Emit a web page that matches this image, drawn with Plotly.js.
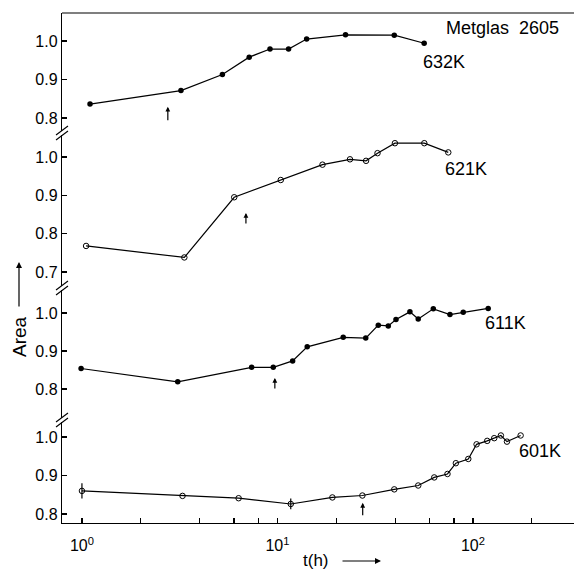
<!DOCTYPE html>
<html>
<head>
<meta charset="utf-8">
<script src="https://cdn.plot.ly/plotly-3.0.1.min.js"></script>
<style>html,body{margin:0;padding:0;background:#fff;}#chart{width:574px;height:573px;}</style>
</head>
<body>
<div id="chart"></div>
<script>
// ---- data ----
var t632 = [1.10, 3.21, 5.23, 7.17, 9.16, 11.4, 14.1, 22.3, 39.6, 56.3];
var a632 = [0.836, 0.871, 0.913, 0.958, 0.979, 0.979, 1.005, 1.016, 1.015, 0.994];

var t621 = [1.05, 3.34, 6.01, 10.4, 17.0, 23.5, 28.4, 32.5, 39.9, 56.4, 74.8];
var a621 = [0.768, 0.738, 0.895, 0.940, 0.980, 0.994, 0.990, 1.010, 1.036, 1.036, 1.012];

var t611 = [0.99, 3.09, 7.38, 9.52, 11.96, 14.2, 21.7, 28.3, 32.8, 36.9, 40.4, 47.6, 52.5, 62.7, 76.3, 89.2, 119.7];
var a611 = [0.854, 0.819, 0.857, 0.857, 0.874, 0.911, 0.936, 0.934, 0.968, 0.966, 0.983, 1.003, 0.984, 1.011, 0.996, 1.002, 1.012];

var t601 = [1.0, 3.27, 6.33, 11.7, 19.1, 27.2, 39.6, 52.5, 63.4, 74.1, 81.8, 94.7, 104.4, 118.3, 128.5, 139, 149.3, 175.4];
var a601 = [0.860, 0.847, 0.841, 0.826, 0.843, 0.848, 0.864, 0.874, 0.895, 0.904, 0.932, 0.943, 0.981, 0.990, 0.997, 1.004, 0.988, 1.004];
var e601 = [0.020, 0, 0, 0.014, 0, 0, 0, 0, 0, 0, 0, 0, 0, 0, 0, 0, 0, 0];

var seriesLabels = ["632K", "621K", "611K", "601K"];
var figLabel = "Metglas  2605";

// marker arrows (time, area at arrow head) per panel
var arrowT = [2.75, 6.9, 9.7, 27.3];
var arrowA = [0.829, 0.854, 0.829, 0.829];

var xTickVals = [1, 2, 4, 6, 8, 10, 20, 40, 60, 80, 100, 200];
var xTickText = ["10<sup>0</sup>", "", "", "", "", "10<sup>1</sup>", "", "", "", "", "10<sup>2</sup>", ""];
var yTicks1 = [0.8, 0.9, 1.0];
var yTicks2 = [0.7, 0.8, 0.9, 1.0];
var yTicks3 = [0.8, 0.9, 1.0];
var yTicks4 = [0.8, 0.9, 1.0];

// ---- layout helpers ----
var W = 574, H = 573, L = 62, R = 0, T = 13, B = 50;
var PW = W - L - R, PH = H - T - B;
function px(x) { return (x - L) / PW; }
function py(y) { return (H - B - y) / PH; }

var FONT = "Liberation Sans, Arial, sans-serif";
var lineStyle = {color: "#000", width: 1.2};

function trace(t, a, yax, open, err) {
  var tr = {
    x: t, y: a, yaxis: yax, type: "scatter", mode: "lines+markers",
    line: lineStyle,
    marker: open ? {symbol: "circle-open", size: 5.5, color: "#000", line: {width: 1, color: "#000"}}
                 : {symbol: "circle", size: 5.5, color: "#000"},
    hoverinfo: "x+y", showlegend: false
  };
  if (err) tr.error_y = {type: "data", array: err, visible: true, color: "#000", thickness: 1.2, width: 0};
  return tr;
}

var data = [
  trace(t632, a632, "y", false),
  trace(t621, a621, "y2", true),
  trace(t611, a611, "y3", false),
  trace(t601, a601, "y4", true, e601)
];

function yax(domain, range, ticks) {
  return {
    domain: domain, range: range, anchor: "x",
    tickvals: ticks, tickformat: ".1f",
    ticks: "inside", ticklen: 5, tickwidth: 1.2, tickcolor: "#000",
    showline: true, linecolor: "#000", linewidth: 1.2,
    showgrid: false, zeroline: false,
    tickfont: {family: FONT, size: 16, color: "#000"}
  };
}

var annotations = [];
function textAnn(txt, x, y, size, angle) {
  annotations.push({text: txt, xref: "paper", yref: "paper", x: x, y: y, showarrow: false,
    xanchor: "center", yanchor: "middle", textangle: angle || 0,
    font: {family: FONT, size: size, color: "#000"}});
}
textAnn(figLabel, px(502), py(28), 18);
textAnn(seriesLabels[0], px(443.5), py(62), 18);
textAnn(seriesLabels[1], px(466), py(169), 18);
textAnn(seriesLabels[2], px(505), py(323), 18);
textAnn(seriesLabels[3], px(540), py(451), 18);
textAnn("Area", px(19), py(337), 19, -90);
textAnn("t(h)", px(316), py(560), 17);

// axis-title arrows
annotations.push({text: "", xref: "paper", yref: "paper", x: px(19), y: py(262), ax: 0, ay: 46,
  showarrow: true, arrowhead: 2, arrowsize: 1, arrowwidth: 1.2, arrowcolor: "#000"});
annotations.push({text: "", xref: "paper", yref: "paper", x: px(381), y: py(561), ax: -40, ay: 0,
  showarrow: true, arrowhead: 2, arrowsize: 1, arrowwidth: 1.2, arrowcolor: "#000"});

// small marker arrows in each panel
var yrefs = ["y", "y2", "y3", "y4"];
var alen = [15, 12, 12, 14];
for (var i = 0; i < 4; i++) {
  annotations.push({text: "", xref: "x", yref: yrefs[i], x: Math.log10(arrowT[i]), y: arrowA[i],
    ax: 0, ay: alen[i], showarrow: true, arrowhead: 2, arrowsize: 0.8, arrowwidth: 1.2, arrowcolor: "#000"});
}

// axis-break marks and top frame line
var shapes = [{type: "line", xref: "paper", yref: "paper", x0: 0, x1: 1, y0: 1, y1: 1,
  line: {color: "#000", width: 1.2}}];
[133, 288, 420].forEach(function (b) {
  [b - 2.5, b + 2.5].forEach(function (c) {
    shapes.push({type: "line", xref: "paper", yref: "paper",
      x0: px(56), y0: py(c + 4.5), x1: px(68), y1: py(c - 4.5),
      line: {color: "#000", width: 1.1}});
  });
});

var layout = {
  width: W, height: H,
  margin: {l: L, r: R, t: T, b: B, pad: 0},
  paper_bgcolor: "#fff", plot_bgcolor: "#fff",
  showlegend: false,
  xaxis: {
    type: "log", range: [-0.102, 2.517], anchor: "y4",
    tickvals: xTickVals, ticktext: xTickText,
    ticks: "inside", ticklen: 5, tickwidth: 1.2, tickcolor: "#000",
    showline: true, linecolor: "#000", linewidth: 1.2,
    showgrid: false, zeroline: false, ticklabelstandoff: 8,
    tickfont: {family: FONT, size: 16, color: "#000"}
  },
  yaxis: yax([py(131), 1], [0.766, 1.0727], yTicks1),
  yaxis2: yax([py(286), py(135)], [0.6635, 1.0574], yTicks2),
  yaxis3: yax([py(418), py(290)], [0.7237, 1.0605], yTicks3),
  yaxis4: yax([0, py(422)], [0.7766, 1.039], yTicks4),
  annotations: annotations,
  shapes: shapes
};

Plotly.newPlot("chart", data, layout, {displayModeBar: false, staticPlot: true});
</script>
</body>
</html>
